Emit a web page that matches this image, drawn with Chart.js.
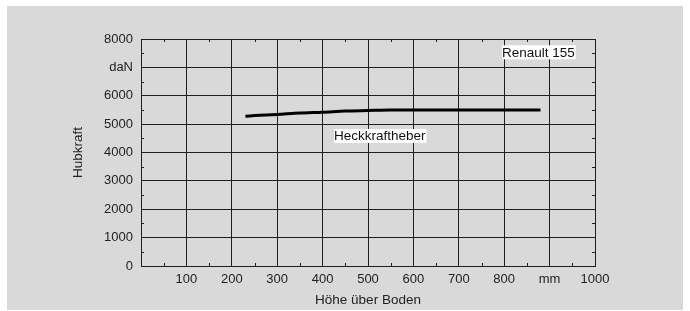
<!DOCTYPE html>
<html>
<head>
<meta charset="utf-8">
<script src="https://cdn.jsdelivr.net/npm/chart.js@4"></script>
<style>
  html, body { margin: 0; padding: 0; background: #fff; }
  #wrap { width: 690px; height: 311px; }
</style>
</head>
<body>
<div id="wrap"><canvas id="myChart" width="690" height="311"></canvas></div>
<script>
// Daten: Hubkraft über Höhe
var hoehe = [230, 250, 300, 350, 400, 450, 500, 550, 600, 700, 800, 880];
var hubkraft = [5280, 5300, 5340, 5390, 5420, 5460, 5480, 5500, 5500, 5500, 5500, 5500];
var xTicks = [0, 100, 200, 300, 400, 500, 600, 700, 800, 900, 1000];
var yTicks = [0, 1000, 2000, 3000, 4000, 5000, 6000, 7000, 8000];
var xLabelMap = { 0: '', 900: 'mm' };
var yLabelMap = { 7000: 'daN' };
var notes = [
  { text: 'Renault 155', x: 795, y: 7530 },
  { text: 'Heckkraftheber', x: 425, y: 4580 }
];

var ink = '#1e1e1e';
var fontFam = 'Liberation Sans, Arial, sans-serif';

// Grauer Hintergrund, kleine Teilstriche und Beschriftungen
var extras = {
  id: 'extras',
  beforeDraw: function (chart) {
    var c = chart.ctx;
    c.save();
    c.fillStyle = '#d9d9d9';
    c.fillRect(7, 6, 676, 304);
    c.restore();
  },
  afterDatasetsDraw: function (chart) {
    var c = chart.ctx, a = chart.chartArea;
    var xs = chart.scales.x, ys = chart.scales.y;
    c.save();
    c.strokeStyle = ink;
    c.lineWidth = 1;
    c.beginPath();
    for (var i = 0; i < xTicks.length - 1; i++) {
      var px = Math.round(xs.getPixelForValue(xTicks[i] + 50)) + 0.5;
      c.moveTo(px, a.bottom); c.lineTo(px, a.bottom - 3);
      c.moveTo(px, a.top); c.lineTo(px, a.top + 3);
    }
    for (var j = 0; j < yTicks.length - 1; j++) {
      var py = Math.round(ys.getPixelForValue(yTicks[j] + 500)) + 0.5;
      c.moveTo(a.left, py); c.lineTo(a.left + 3, py);
      c.moveTo(a.right, py); c.lineTo(a.right - 3, py);
    }
    c.stroke();

    c.font = '13.5px ' + fontFam;
    c.textBaseline = 'middle';
    notes.forEach(function (n) {
      var x = xs.getPixelForValue(n.x);
      var y = ys.getPixelForValue(n.y);
      var w = c.measureText(n.text).width;
      c.fillStyle = '#fff';
      c.fillRect(x, y - 7, w + 1, 14);
      c.fillStyle = '#111';
      c.fillText(n.text, x, y + 0.5);
    });
    c.restore();
  }
};

var ctx = document.getElementById('myChart').getContext('2d');
var myChart = new Chart(ctx, {
  type: 'line',
  data: {
    datasets: [{
      data: hoehe.map(function (h, i) { return { x: h, y: hubkraft[i] }; }),
      borderColor: '#000',
      borderWidth: 3,
      pointRadius: 0,
      tension: 0.3,
      fill: false
    }]
  },
  options: {
    responsive: false,
    animation: false,
    layout: { padding: { top: 39, right: 95, left: 0, bottom: 0 } },
    plugins: { legend: { display: false }, tooltip: { enabled: false } },
    scales: {
      x: {
        type: 'linear',
        min: 0, max: 1000,
        afterBuildTicks: function (s) { s.ticks = xTicks.map(function (v) { return { value: v }; }); },
        afterFit: function (s) { s.height = 45; },
        grid: { color: ink, lineWidth: 1, drawTicks: false },
        border: { color: ink, width: 1 },
        ticks: {
          color: '#222', padding: 6, maxRotation: 0, autoSkip: false,
          font: { family: fontFam, size: 13 },
          callback: function (v) { return v in xLabelMap ? xLabelMap[v] : String(v); }
        },
        title: {
          display: true, text: 'Höhe über Boden', color: '#222',
          font: { family: fontFam, size: 13.5 },
          padding: { top: 0, bottom: 3 }
        }
      },
      y: {
        type: 'linear',
        min: 0, max: 8000,
        afterBuildTicks: function (s) { s.ticks = yTicks.map(function (v) { return { value: v }; }); },
        afterFit: function (s) { s.width = 141; },
        grid: { color: ink, lineWidth: 1, drawTicks: false },
        border: { color: ink, width: 1 },
        ticks: {
          color: '#222', padding: 8, autoSkip: false,
          font: { family: fontFam, size: 13 },
          callback: function (v) { return v in yLabelMap ? yLabelMap[v] : String(v); }
        },
        title: {
          display: true, text: 'Hubkraft', color: '#222',
          font: { family: fontFam, size: 13.5 },
          padding: { top: 70, bottom: 0 }
        }
      }
    }
  },
  plugins: [extras]
});
</script>
</body>
</html>
